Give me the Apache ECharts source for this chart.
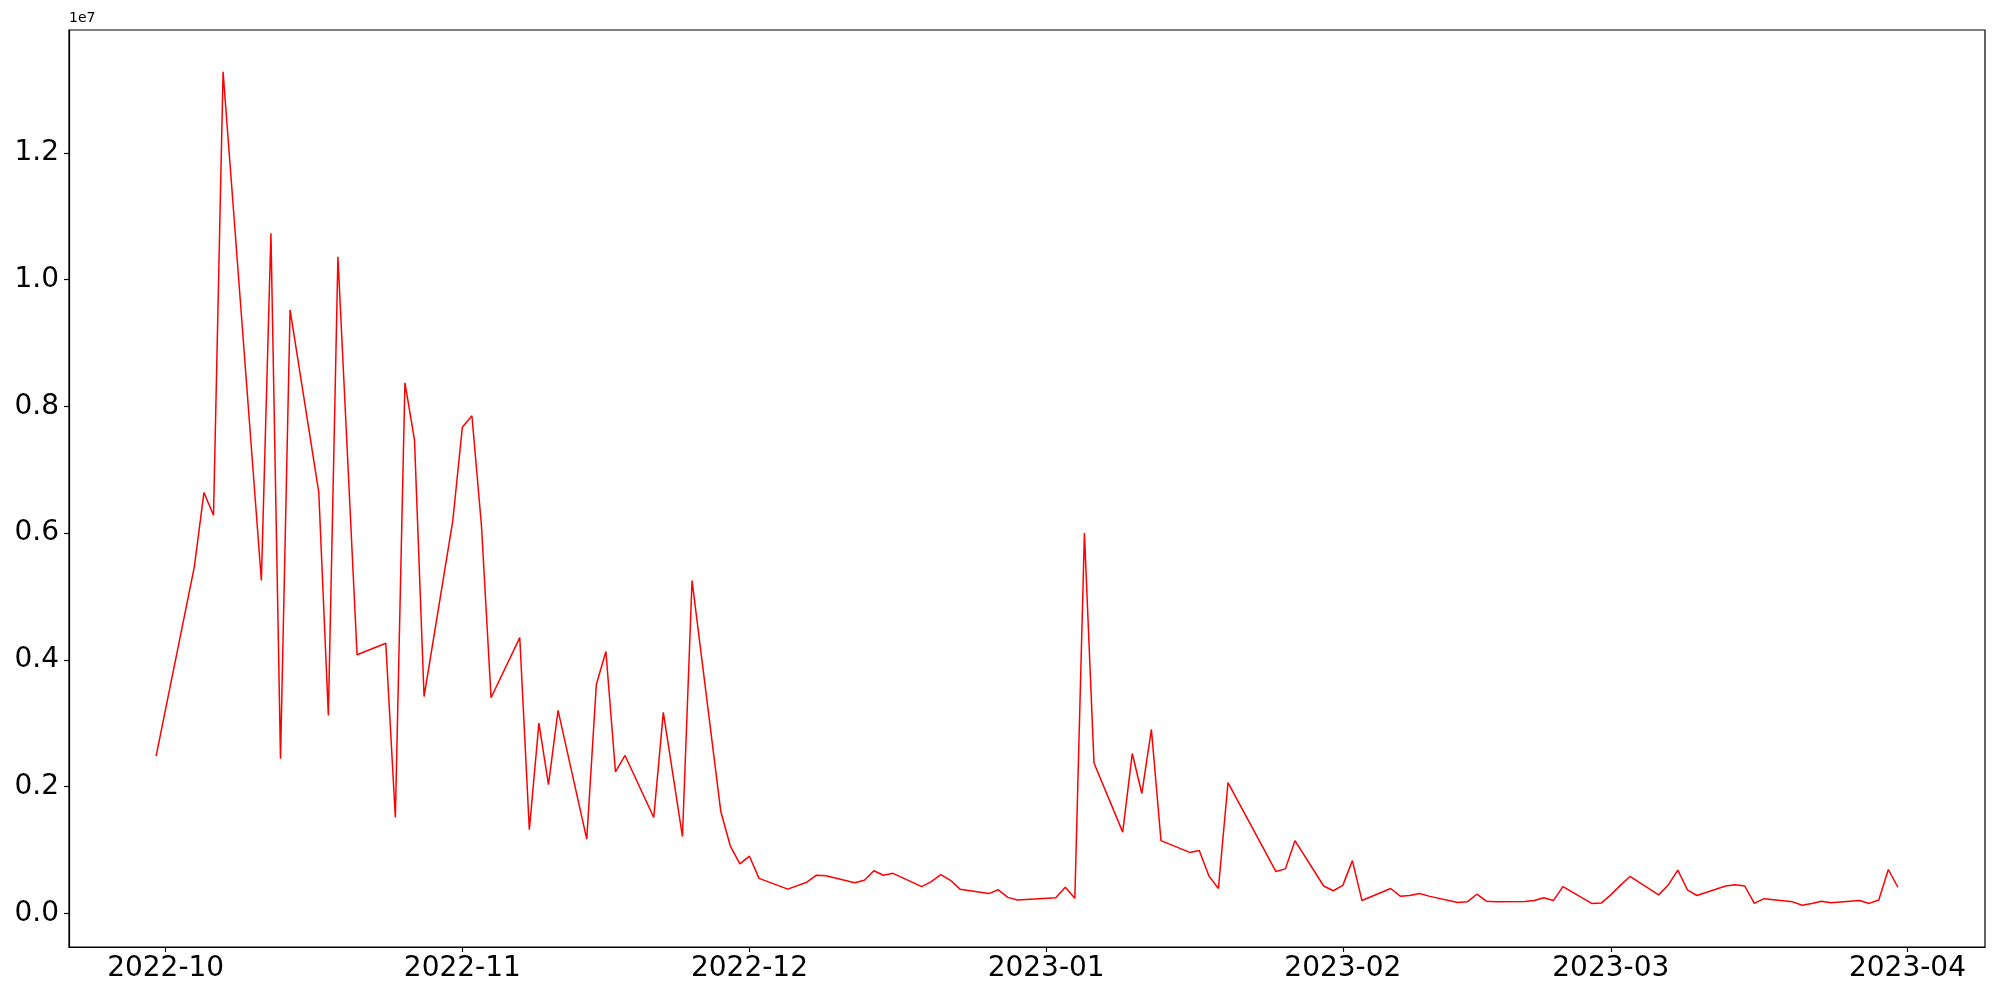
<!DOCTYPE html>
<html>
<head>
<meta charset="utf-8">
<script src="https://cdn.jsdelivr.net/npm/echarts@6/dist/echarts.min.js"></script>
<style>
html,body{margin:0;padding:0;background:#fff;}
#chart{width:2000px;height:1000px;}
</style>
</head>
<body>
<div id="chart"></div>
<script>
const dates = [
 '2022-09-30','2022-10-04','2022-10-05','2022-10-06','2022-10-07','2022-10-11','2022-10-12','2022-10-13','2022-10-14',
 '2022-10-17','2022-10-18','2022-10-19','2022-10-21','2022-10-24','2022-10-25','2022-10-26','2022-10-27','2022-10-28',
 '2022-10-31','2022-11-01','2022-11-02','2022-11-03','2022-11-04','2022-11-07','2022-11-08','2022-11-09','2022-11-10','2022-11-11',
 '2022-11-14','2022-11-15','2022-11-16','2022-11-17','2022-11-18','2022-11-21','2022-11-22','2022-11-24','2022-11-25',
 '2022-11-28','2022-11-29','2022-11-30','2022-12-01','2022-12-02','2022-12-05','2022-12-07','2022-12-08','2022-12-09',
 '2022-12-12','2022-12-13','2022-12-14','2022-12-15','2022-12-16','2022-12-19','2022-12-20','2022-12-21','2022-12-22','2022-12-23',
 '2022-12-26','2022-12-27','2022-12-28','2022-12-29','2023-01-02','2023-01-03','2023-01-04','2023-01-05','2023-01-06',
 '2023-01-09','2023-01-10','2023-01-11','2023-01-12','2023-01-13','2023-01-16','2023-01-17','2023-01-18','2023-01-19','2023-01-20',
 '2023-01-25','2023-01-26','2023-01-27','2023-01-30','2023-01-31','2023-02-01','2023-02-02','2023-02-03',
 '2023-02-06','2023-02-07','2023-02-08','2023-02-09','2023-02-10','2023-02-13','2023-02-14','2023-02-15','2023-02-16','2023-02-17',
 '2023-02-20','2023-02-21','2023-02-22','2023-02-23','2023-02-24','2023-02-27','2023-02-28','2023-03-01','2023-03-02','2023-03-03',
 '2023-03-06','2023-03-07','2023-03-08','2023-03-09','2023-03-10','2023-03-13','2023-03-14','2023-03-15','2023-03-16','2023-03-17',
 '2023-03-20','2023-03-21','2023-03-22','2023-03-23','2023-03-24','2023-03-27','2023-03-28','2023-03-29','2023-03-30','2023-03-31'
];
const values = [
 2480000,5470000,6640000,6280000,13280000,5250000,10730000,2440000,9520000,
 6640000,3120000,10360000,4080000,4260000,1510000,8370000,7470000,3420000,
 6190000,7670000,7850000,6110000,3400000,4350000,1320000,3000000,2030000,3200000,
 1170000,3610000,4130000,2230000,2490000,1510000,3170000,1210000,5250000,
 1610000,1060000,780000,900000,550000,380000,490000,600000,590000,
 480000,520000,670000,600000,630000,420000,500000,610000,520000,380000,
 310000,370000,250000,210000,245000,410000,235000,6000000,2370000,
 1280000,2520000,1890000,2900000,1145000,960000,990000,590000,390000,2060000,
 660000,700000,1145000,430000,355000,440000,830000,200000,
 390000,270000,280000,310000,270000,170000,180000,300000,190000,180000,
 185000,200000,245000,200000,420000,155000,160000,290000,440000,580000,
 290000,445000,680000,370000,280000,430000,450000,430000,155000,230000,
 180000,125000,155000,190000,165000,200000,155000,210000,690000,410000
];
const monthTicks = ['2022-10-01','2022-11-01','2022-12-01','2023-01-01','2023-02-01','2023-03-01','2023-04-01'];
const yTicks = [0, 2000000, 4000000, 6000000, 8000000, 10000000, 12000000];
const yOffsetText = '1e7';

function ts(s){ const p = s.split('-').map(Number); return Date.UTC(p[0], p[1]-1, p[2]); }
const tData = dates.map(ts);
const tMin = Math.min(...tData), tMax = Math.max(...tData);
const vMin = Math.min(...values), vMax = Math.max(...values);
const tPad = (tMax - tMin) * 0.05, vPad = (vMax - vMin) * 0.05;
const seriesData = tData.map((t, i) => [t, values[i]]);
const monthTs = monthTicks.map(ts);

const font = 'DejaVu Sans';
const chart = echarts.init(document.getElementById('chart'), null, {renderer: 'canvas'});
chart.setOption({
  animation: false,
  backgroundColor: '#fff',
  grid: {left: 69, right: 15, top: 30, bottom: 53, containLabel: false,
         show: true, borderColor: '#000', borderWidth: 1.2, backgroundColor: 'transparent'},
  xAxis: {
    type: 'value', min: tMin - tPad, max: tMax + tPad, scale: true,
    splitLine: {show: false},
    axisLine: {show: true, onZero: false, lineStyle: {color: '#000', width: 1.2}},
    axisTick: {show: true, inside: false, length: 5, customValues: monthTs, lineStyle: {color: '#000', width: 1.2}},
    axisLabel: {show: true, customValues: monthTs, margin: 8, color: '#000', fontFamily: font, fontSize: 28,
      showMinLabel: true, showMaxLabel: true,
      formatter: function (v) { const d = new Date(v); return d.getUTCFullYear() + '-' + String(d.getUTCMonth()+1).padStart(2,'0'); }},
    minorTick: {show: false}
  },
  yAxis: {
    type: 'value', min: vMin - vPad, max: vMax + vPad,
    name: yOffsetText, nameLocation: 'end', nameGap: 5,
    nameTextStyle: {fontFamily: font, fontSize: 14, color: '#000', align: 'left', verticalAlign: 'bottom'},
    splitLine: {show: false},
    axisLine: {show: true, onZero: false, lineStyle: {color: '#000', width: 1.2}},
    axisTick: {show: true, inside: false, length: 5, customValues: yTicks, lineStyle: {color: '#000', width: 1.2}},
    axisLabel: {show: true, customValues: yTicks, margin: 10, color: '#000', fontFamily: font, fontSize: 28,
      formatter: function (v) { return (v / 1e7).toFixed(1); }}
  },
  series: [{
    type: 'line', data: seriesData, showSymbol: false, symbol: 'none',
    lineStyle: {color: '#ff0000', width: 1.5}, itemStyle: {color: '#ff0000'}
  }]
});
</script>
</body>
</html>
